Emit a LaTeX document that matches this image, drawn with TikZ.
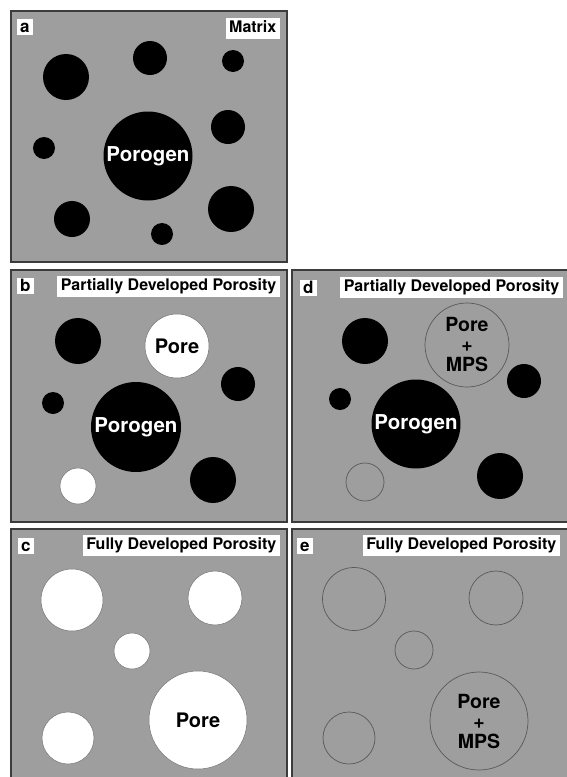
\documentclass[tikz,border=0pt]{standalone}
\usepackage{fontspec}
\setmainfont{TeX Gyre Heros}
\definecolor{matrixgray}{HTML}{9E9E9E}
\definecolor{edgegray}{HTML}{3C3C3C}
\tikzset{
  panel/.style={draw=edgegray, line width=1.6pt, fill=matrixgray},
  porogen/.style={circle, fill=black, inner sep=0pt, text=white,
    font=\bfseries\fontsize{20.5}{20}\selectfont},
  pore/.style={circle, fill=white, draw=black!55, line width=0.5pt, inner sep=0pt,
    font=\bfseries\fontsize{20}{20}\selectfont},
  mps/.style={circle, draw=black!65, line width=0.7pt, inner sep=0pt, align=center,
    font=\bfseries\fontsize{19.5}{20}\selectfont},
  letterlbl/.style={fill=white, inner xsep=3pt, inner ysep=2pt, text height=11.5pt, text depth=0pt,
    font=\bfseries\fontsize{17}{19}\selectfont},
  titlelbl/.style={fill=white, inner xsep=3.5pt, inner ysep=2.5pt, text height=12pt, text depth=3.5pt,
    font=\bfseries\fontsize{16}{19}\selectfont}
}
\begin{document}
\begin{tikzpicture}[x=1pt, y=-1pt]
\useasboundingbox (0,0) rectangle (566,777);
\fill[white] (0,0) rectangle (566,777);
% panels
\draw[panel] (11,11) rectangle (287,262);
\draw[panel] (11,270) rectangle (287,522);
\draw[panel] (292,270) rectangle (580,522);
\draw[panel] (11,529) rectangle (287,795);
\draw[panel] (292,529) rectangle (580,795);

% ---- panel a ----
\node[letterlbl, anchor=north west] (la) at (17,19) {a};
\node[titlelbl, anchor=north east] (ta) at (280,18) {Matrix};
\node[porogen, minimum size=46pt] (a1) at (66,77) {};
\node[porogen, minimum size=34pt] (a2) at (150,58) {};
\node[porogen, minimum size=22pt] (a3) at (233,61) {};
\node[porogen, minimum size=89pt] (a4) at (148,156) {Porogen};
\node[porogen, minimum size=34pt] (a5) at (228,127) {};
\node[porogen, minimum size=22pt] (a6) at (44,148) {};
\node[porogen, minimum size=36pt] (a7) at (72,219) {};
\node[porogen, minimum size=22pt] (a8) at (162,234) {};
\node[porogen, minimum size=46pt] (a9) at (231,209) {};

% ---- panel b ----
\node[letterlbl, anchor=north west] (lb) at (17,278) {b};
\node[titlelbl, anchor=north east] (tb) at (280,276) {Partially Developed Porosity};
\node[porogen, minimum size=46pt] (b1) at (78,341) {};
\node[pore, minimum size=64pt] (b2) at (177,346) {Pore};
\node[porogen, minimum size=34pt] (b3) at (238,384) {};
\node[porogen, minimum size=22pt] (b4) at (53,403) {};
\node[porogen, minimum size=90pt] (b5) at (136,427) {Porogen};
\node[pore, minimum size=36pt] (b6) at (78,486) {};
\node[porogen, minimum size=46pt] (b7) at (213,480) {};

% ---- panel d ----
\node[letterlbl, anchor=north west] (ld) at (300,280) {d};
\node[titlelbl, anchor=north east] (td) at (563,277) {Partially Developed Porosity};
\node[porogen, minimum size=46pt] (d1) at (365,341) {};
\node[mps, minimum size=84pt] (d2) at (467,345) {Pore\\+\\MPS};
\node[porogen, minimum size=34pt] (d3) at (524,381) {};
\node[porogen, minimum size=22pt] (d4) at (340,399) {};
\node[porogen, minimum size=89pt] (d5) at (416,424) {Porogen};
\node[mps, minimum size=38pt] (d6) at (365,482) {};
\node[porogen, minimum size=46pt] (d7) at (500,476) {};

% ---- panel c ----
\node[letterlbl, anchor=north west] (lc) at (18,538) {c};
\node[titlelbl, anchor=north east] (tc) at (280,535) {Fully Developed Porosity};
\node[pore, minimum size=62pt] (c1) at (72,600) {};
\node[pore, minimum size=54pt] (c2) at (215,598) {};
\node[pore, minimum size=36pt] (c3) at (132,651) {};
\node[pore, minimum size=52pt] (c4) at (68,738) {};
\node[pore, minimum size=98pt] (c5) at (198,720) {Pore};

% ---- panel e ----
\node[letterlbl, anchor=north west] (le) at (297,538) {e};
\node[titlelbl, anchor=north east] (te) at (560,535) {Fully Developed Porosity};
\node[mps, minimum size=63pt] (e1) at (354,599) {};
\node[mps, minimum size=54pt] (e2) at (496,598) {};
\node[mps, minimum size=38pt] (e3) at (414,650) {};
\node[mps, minimum size=52pt] (e4) at (349,738) {};
\node[mps, minimum size=98pt] (e5) at (479,721) {Pore\\+\\MPS};
\end{tikzpicture}
\end{document}
